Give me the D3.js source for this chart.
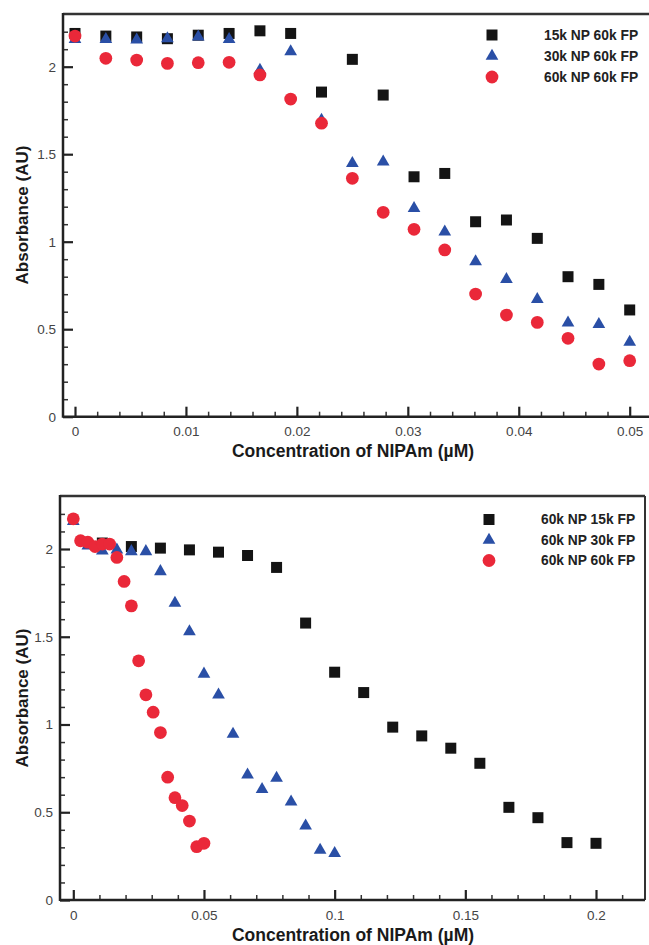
<!DOCTYPE html>
<html>
<head>
<meta charset="utf-8">
<script src="https://cdn.jsdelivr.net/npm/d3@7"></script>
<style>
  body { margin: 0; background: #fff; }
  text { font-family: "Liberation Sans", Arial, sans-serif; }
</style>
</head>
<body>
<script>
// ---- data ----
var topX = [0, 0.00278, 0.00556, 0.00833, 0.01111, 0.01389, 0.01667, 0.01944, 0.02222, 0.025,
            0.02778, 0.03056, 0.03333, 0.03611, 0.03889, 0.04167, 0.04444, 0.04722, 0.05];
var top15k = [2.19, 2.175, 2.17, 2.16, 2.18, 2.19, 2.205, 2.19, 1.855, 2.042,
              1.838, 1.371, 1.39, 1.114, 1.124, 1.019, 0.80, 0.756, 0.61];
var top30k = [2.157, 2.157, 2.153, 2.16, 2.17, 2.157, 1.98, 2.086, 1.695, 1.448,
              1.457, 1.19, 1.057, 0.886, 0.785, 0.671, 0.537, 0.528, 0.427];
var top60k = [2.175, 2.048, 2.038, 2.019, 2.023, 2.025, 1.953, 1.815, 1.677, 1.362,
              1.168, 1.071, 0.953, 0.701, 0.581, 0.539, 0.448, 0.301, 0.32];

var botX15 = [0.01111, 0.02222, 0.03333, 0.04444, 0.05556, 0.06667, 0.07778, 0.08889, 0.1,
              0.11111, 0.12222, 0.13333, 0.14444, 0.15556, 0.16667, 0.17778, 0.18889, 0.2];
var bot15k = [2.034, 2.014, 2.005, 1.995, 1.982, 1.963, 1.895, 1.578, 1.298,
              1.182, 0.985, 0.935, 0.865, 0.779, 0.528, 0.469, 0.327, 0.323];
var botX30 = [0, 0.00556, 0.01111, 0.01667, 0.02222, 0.02778, 0.03333, 0.03889, 0.04444, 0.05,
              0.05556, 0.06111, 0.06667, 0.07222, 0.07778, 0.08333, 0.08889, 0.09444, 0.1];
var bot30k = [2.157, 2.018, 1.99, 1.995, 1.986, 1.986, 1.872, 1.692, 1.53, 1.288,
              1.169, 0.945, 0.713, 0.631, 0.694, 0.56, 0.422, 0.285, 0.266];
var botX60 = [0, 0.00278, 0.00556, 0.00833, 0.01111, 0.01389, 0.01667, 0.01944, 0.02222, 0.025,
              0.02778, 0.03056, 0.03333, 0.03611, 0.03889, 0.04167, 0.04444, 0.04722, 0.05];
var bot60k = [2.172, 2.047, 2.039, 2.014, 2.028, 2.028, 1.952, 1.815, 1.676, 1.363,
              1.169, 1.07, 0.954, 0.7, 0.583, 0.538, 0.45, 0.304, 0.323];

var topLegend = ["15k NP 60k FP", "30k NP 60k FP", "60k NP 60k FP"];
var botLegend = ["60k NP 15k FP", "60k NP 30k FP", "60k NP 60k FP"];

var topXTicks = [0, 0.01, 0.02, 0.03, 0.04, 0.05];
var topXMinor = [0.002, 0.004, 0.006, 0.008, 0.012, 0.014, 0.016, 0.018, 0.022, 0.024, 0.026, 0.028,
                 0.032, 0.034, 0.036, 0.038, 0.042, 0.044, 0.046, 0.048];
var botXTicks = [0, 0.05, 0.1, 0.15, 0.2];
var botXMinor = [0.01, 0.02, 0.03, 0.04, 0.06, 0.07, 0.08, 0.09, 0.11, 0.12, 0.13, 0.14,
                 0.16, 0.17, 0.18, 0.19, 0.21];
var yTicks = [0, 0.5, 1, 1.5, 2];
var yMinor = [0.1, 0.2, 0.3, 0.4, 0.6, 0.7, 0.8, 0.9, 1.1, 1.2, 1.3, 1.4, 1.6, 1.7, 1.8, 1.9, 2.1, 2.2];

var colors = ["#141414", "#2a4fa6", "#ea2839"];
var shapes = [d3.symbolSquare, d3.symbolTriangle, d3.symbolCircle];
var sizes = [121, 70, 128];

var svg = d3.select("body").append("svg")
    .attr("width", 649)
    .attr("height", 945);

function panel(p) {
  var g = svg.append("g");
  var x = d3.scaleLinear().domain([0, p.xEnd]).range([p.x0, p.xEndPx]);
  var y = d3.scaleLinear().domain([0, 2]).range([p.y0, p.y2]);

  // frame (top line, optional right line)
  g.append("line")
      .attr("x1", p.left).attr("x2", p.right)
      .attr("y1", p.top).attr("y2", p.top)
      .attr("stroke", "#333").attr("stroke-width", 2.5);
  if (p.rightBorder) {
    g.append("line")
        .attr("x1", p.right).attr("x2", p.right)
        .attr("y1", p.top).attr("y2", p.y0)
        .attr("stroke", "#333").attr("stroke-width", 2);
  }

  // minor ticks
  g.append("g")
      .attr("transform", "translate(0," + p.y0 + ")")
      .call(d3.axisBottom(x).tickValues(p.xMinor).tickSize(-5).tickFormat(""))
      .call(function(a) { a.select(".domain").remove(); a.selectAll("line").attr("stroke", "#333").attr("stroke-width", 1.5); });
  g.append("g")
      .attr("transform", "translate(" + p.left + ",0)")
      .call(d3.axisLeft(y).tickValues(yMinor).tickSize(-5).tickFormat(""))
      .call(function(a) { a.select(".domain").remove(); a.selectAll("line").attr("stroke", "#333").attr("stroke-width", 1.5); });

  // major ticks + labels
  var xa = g.append("g")
      .attr("transform", "translate(0," + p.y0 + ")")
      .call(d3.axisBottom(x).tickValues(p.xTicks).tickSize(-10).tickPadding(10).tickFormat(function(d) { return String(d); }));
  xa.select(".domain").remove();
  xa.selectAll("line").attr("stroke", "#222").attr("stroke-width", 2.2);
  xa.selectAll("text").attr("font-size", 13.5).attr("fill", "#444");

  var ya = g.append("g")
      .attr("transform", "translate(" + p.left + ",0)")
      .call(d3.axisLeft(y).tickValues(yTicks).tickSize(-10).tickPadding(7).tickFormat(function(d) { return String(d); }));
  ya.select(".domain").remove();
  ya.selectAll("line").attr("stroke", "#222").attr("stroke-width", 2.2);
  ya.selectAll("text").attr("font-size", 13.5).attr("fill", "#444");

  // axis lines
  g.append("line")
      .attr("x1", p.left).attr("x2", p.right)
      .attr("y1", p.y0).attr("y2", p.y0)
      .attr("stroke", "#222").attr("stroke-width", 2.5);
  g.append("line")
      .attr("x1", p.left).attr("x2", p.left)
      .attr("y1", p.top - 1).attr("y2", p.y0 + 1)
      .attr("stroke", "#222").attr("stroke-width", 2.5);

  // points: squares, triangles, circles (circles on top)
  p.series.forEach(function(s, i) {
    var pts = s.xs.map(function(v, j) { return [v, s.ys[j]]; });
    g.append("g").selectAll("path")
      .data(pts)
      .enter()
      .append("path")
        .attr("transform", function(d) { return "translate(" + x(d[0]) + "," + y(d[1]) + ")"; })
        .attr("d", d3.symbol().type(shapes[i]).size(sizes[i]))
        .attr("fill", colors[i]);
  });

  // legend
  var lg = g.append("g");
  p.legend.forEach(function(name, i) {
    var ly = p.legY + i * p.legStep;
    lg.append("path")
        .attr("transform", "translate(" + p.legX + "," + ly + ")")
        .attr("d", d3.symbol().type(shapes[i]).size(sizes[i]))
        .attr("fill", colors[i]);
    lg.append("text")
        .attr("x", p.legTextX).attr("y", ly)
        .attr("dy", "0.36em")
        .attr("font-size", 13.8).attr("font-weight", "bold").attr("fill", "#222")
        .text(name);
  });

  // axis titles
  g.append("text")
      .attr("x", 353).attr("y", p.xTitleY)
      .attr("text-anchor", "middle")
      .attr("font-size", 17.5).attr("font-weight", "bold").attr("fill", "#1a1a1a")
      .text("Concentration of NIPAm (µM)");
  g.append("text")
      .attr("transform", "translate(28," + p.yTitleY + ") rotate(-90)")
      .attr("text-anchor", "middle")
      .attr("font-size", 17).attr("font-weight", "bold").attr("fill", "#1a1a1a")
      .text("Absorbance (AU)");
}

panel({
  left: 63, right: 652, top: 14, rightBorder: false,
  x0: 75, xEnd: 0.05, xEndPx: 629.7,
  y0: 416.7, y2: 66.7,
  xTicks: topXTicks, xMinor: topXMinor,
  series: [{xs: topX, ys: top15k}, {xs: topX, ys: top30k}, {xs: topX, ys: top60k}],
  legend: topLegend, legX: 492, legTextX: 544, legY: 35, legStep: 21,
  xTitleY: 457, yTitleY: 215
});

panel({
  left: 60, right: 645, top: 496, rightBorder: true,
  x0: 73.3, xEnd: 0.2, xEndPx: 596,
  y0: 900, y2: 549,
  xTicks: botXTicks, xMinor: botXMinor,
  series: [{xs: botX15, ys: bot15k}, {xs: botX30, ys: bot30k}, {xs: botX60, ys: bot60k}],
  legend: botLegend, legX: 489, legTextX: 541, legY: 519.5, legStep: 20.5,
  xTitleY: 941, yTitleY: 698
});
</script>
</body>
</html>
